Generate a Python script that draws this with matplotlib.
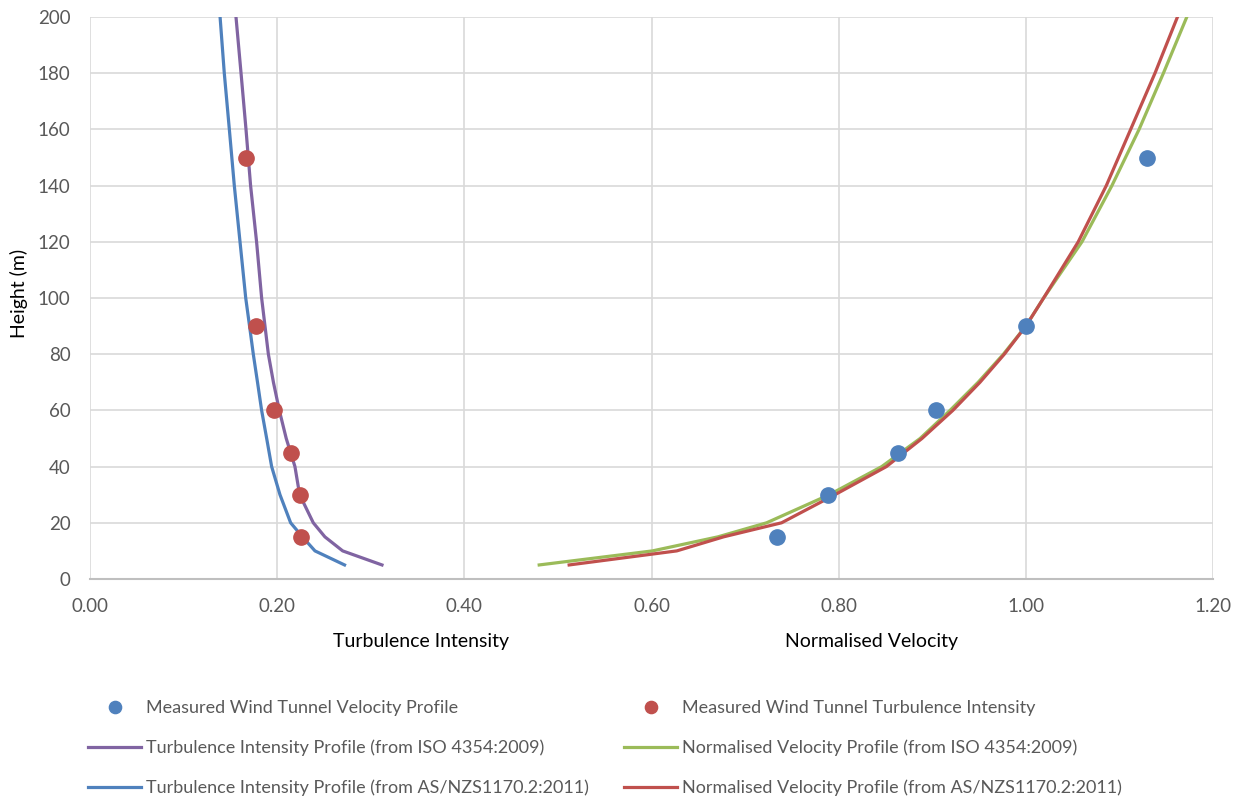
import matplotlib
matplotlib.use("Agg")
import matplotlib.pyplot as plt

plt.rcParams['font.family'] = ['Lato', 'DejaVu Sans']

# measured wind tunnel points
meas_h = [15, 30, 45, 60, 90, 150]
meas_vel = [0.734, 0.789, 0.863, 0.904, 1.000, 1.129]
meas_ti = [0.225, 0.224, 0.215, 0.197, 0.177, 0.167]

# code profiles
prof_h = [5, 10, 15, 20, 30, 40, 50, 60, 70, 80, 90, 100, 120, 140, 160, 180, 200]
ti_iso = [0.312, 0.270, 0.251, 0.2386, 0.224, 0.219, 0.2097, 0.2023, 0.196, 0.1906, 0.187,
          0.1834, 0.178, 0.1716, 0.1667, 0.1614, 0.156]
ti_as = [0.272, 0.2404, 0.227, 0.2144, 0.203, 0.1941, 0.1888, 0.1834, 0.179, 0.1745, 0.1705,
         0.1664, 0.1603, 0.1542, 0.1489, 0.1435, 0.139]
vel_iso = [0.480, 0.601, 0.671, 0.723, 0.790, 0.846, 0.887, 0.919, 0.949, 0.976, 1.000,
           1.019, 1.060, 1.092, 1.121, 1.147, 1.172]
vel_as = [0.512, 0.627, 0.677, 0.739, 0.796, 0.851, 0.889, 0.922, 0.951, 0.977, 1.000,
          1.019, 1.056, 1.086, 1.112, 1.138, 1.162]

BLUE = '#4F81BD'
RED = '#C0504D'
GREEN = '#9BBB59'
PURPLE = '#8064A2'

fig = plt.figure(figsize=(12.44, 8.02), dpi=100)
ax = fig.add_axes([90/1244, 1 - 579/802, (1213-90)/1244, (579-17)/802])

l_vel_iso, = ax.plot(vel_iso, prof_h, color=GREEN, lw=2.3, zorder=2)
l_vel_as, = ax.plot(vel_as, prof_h, color=RED, lw=2.3, zorder=3)
l_ti_iso, = ax.plot(ti_iso, prof_h, color=PURPLE, lw=2.3, zorder=3)
l_ti_as, = ax.plot(ti_as, prof_h, color=BLUE, lw=2.3, zorder=3)
m_vel, = ax.plot(meas_vel, meas_h, 'o', color=BLUE, ms=11, zorder=4, ls='none')
m_ti, = ax.plot(meas_ti, meas_h, 'o', color=RED, ms=11, zorder=4, ls='none')

xt = [0, 0.2, 0.4, 0.6, 0.8, 1.0, 1.2]
ax.set_xlim(0, 1.2)
ax.set_ylim(0, 200)
ax.set_xticks(xt)
ax.set_xticklabels(['%.2f' % v for v in xt])
ax.set_yticks(range(0, 201, 20))
ax.tick_params(length=0, labelsize=13.5, colors='#595959')
ax.tick_params(axis='x', pad=14)
ax.tick_params(axis='y', pad=14)
ax.grid(True, color='#D9D9D9', lw=1.2)
ax.set_axisbelow(True)
for s in ['top', 'right', 'left']:
    ax.spines[s].set_visible(False)
ax.spines['bottom'].set_color('#BFBFBF')
ax.spines['bottom'].set_linewidth(1.5)

fig.text(19/1244, 1 - 293/802, 'Height (m)', rotation=90, ha='center', va='center', fontsize=14)
fig.text(421/1244, 1 - 641/802, 'Turbulence Intensity', ha='center', va='center', fontsize=14)
fig.text(871/1244, 1 - 641/802, 'Normalised Velocity', ha='center', va='center', fontsize=14)

leg_kw = dict(frameon=False, loc='upper left', borderpad=0, borderaxespad=0,
              handlelength=2.95, handletextpad=0.25, labelspacing=1.3,
              markerscale=0.8, fontsize=13, labelcolor='#595959')
fig.legend([m_vel, l_ti_iso, l_ti_as],
           ['Measured Wind Tunnel Velocity Profile',
            'Turbulence Intensity Profile (from ISO 4354:2009)',
            'Turbulence Intensity Profile (from AS/NZS1170.2:2011)'],
           bbox_to_anchor=(88/1244, 1 - 700/802), **leg_kw)
fig.legend([m_ti, l_vel_iso, l_vel_as],
           ['Measured Wind Tunnel Turbulence Intensity',
            'Normalised Velocity Profile (from ISO 4354:2009)',
            'Normalised Velocity Profile (from AS/NZS1170.2:2011)'],
           bbox_to_anchor=(624/1244, 1 - 700/802), **leg_kw)

fig.savefig('out.png', dpi=100)
